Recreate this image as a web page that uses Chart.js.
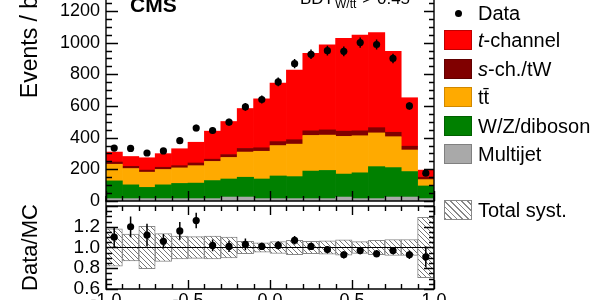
<!DOCTYPE html>
<html>
<head>
<meta charset="utf-8">
<script src="https://cdn.jsdelivr.net/npm/chart.js@4.4.0/dist/chart.umd.min.js"></script>
<style>
html, body { margin: 0; padding: 0; background: #fff; }
body { width: 600px; height: 300px; overflow: hidden; position: relative; font-family: "Liberation Sans", Arial, sans-serif; }
#main { position: absolute; left: 0; top: -26px; }
#ratio { position: absolute; left: 0; top: 196px; }
.leg { position: absolute; left: 478px; height: 24px; line-height: 24px; font-size: 20px; color: #000; white-space: nowrap; }
.box { position: absolute; left: 444px; width: 26px; height: 18px; border: 1px solid #555; }
.dot { position: absolute; left: 455px; top: 10px; width: 7px; height: 7px; border-radius: 50%; background: #000; }
</style>
</head>
<body>
<canvas id="main" width="600" height="239"></canvas>
<canvas id="ratio" width="600" height="124"></canvas>

<div class="dot"></div><div class="leg" style="top:1px">Data</div>
<div class="box" style="top:30px;background:#ff0000;border-color:#c00000"></div><div class="leg" style="top:28px"><i>t</i>-channel</div>
<div class="box" style="top:59px;background:#800000;border-color:#600000"></div><div class="leg" style="top:57px"><i>s</i>-ch./tW</div>
<div class="box" style="top:87px;background:#ffaa00;border-color:#d08800"></div><div class="leg" style="top:85px">tt&#772;</div>
<div class="box" style="top:116px;background:#008000;border-color:#006000"></div><div class="leg" style="top:114px">W/Z/diboson</div>
<div class="box" style="top:144px;background:#a9a9a9;border-color:#808080"></div><div class="leg" style="top:142px">Multijet</div>
<div class="box" style="top:200px;border-color:#888;background:repeating-linear-gradient(45deg,#888 0 1px,#fff 1px 4px)"></div><div class="leg" style="top:198px">Total syst.</div>

<script>
// bins of the BDT output, -1 .. 1
const binCenters = [-0.95, -0.85, -0.75, -0.65, -0.55, -0.45, -0.35, -0.25, -0.15, -0.05,
                     0.05,  0.15,  0.25,  0.35,  0.45,  0.55,  0.65,  0.75,  0.85,  0.95];

// stacked simulation, events per bin
const multijet = [15, 15, 15, 15, 15, 15, 15, 25, 25, 15, 15, 15, 15, 15, 25, 15, 15, 25, 25, 15];
const wzDiboson = [112, 87, 71, 87, 96, 98, 114, 114, 125, 124, 143, 139, 174, 178, 145, 163, 202, 186, 161, 80];
const ttbar = [105, 103, 96, 97, 98, 110, 121, 136, 159, 175, 192, 205, 225, 223, 238, 234, 213, 195, 136, 40];
const sChTW = [14, 14, 13, 14, 14, 17, 14, 18, 23, 22, 25, 28, 29, 33, 33, 31, 33, 28, 24, 15];
const tChannel = [63, 62, 78, 86, 107, 131, 177, 209, 252, 309, 369, 439, 489, 537, 586, 604, 601, 511, 306, 45];

// data
const dataCounts = [334, 332, 303, 316, 381, 461, 445, 498, 594, 641, 752, 867, 926, 949, 945, 1000, 988, 900, 600, 176];
const dataErr = [18, 18, 17, 18, 20, 21, 21, 22, 24, 25, 27, 29, 30, 31, 31, 32, 31, 30, 24, 13];

// ratio panel
const ratio = [1.10, 1.20, 1.12, 1.06, 1.16, 1.26, 1.02, 1.01, 1.03, 1.01, 1.02, 1.07, 1.01, 0.98, 0.93, 0.97, 0.94, 0.97, 0.93, 0.91];
const ratioErr = [0.095, 0.10, 0.11, 0.07, 0.085, 0.075, 0.057, 0.054, 0.057, 0.035, 0.04, 0.04, 0.035, 0.035, 0.035, 0.035, 0.035, 0.035, 0.04, 0.10];
const systErr = [0.18, 0.13, 0.205, 0.135, 0.11, 0.105, 0.11, 0.10, 0.06, 0.045, 0.058, 0.07, 0.06, 0.065, 0.075, 0.057, 0.07, 0.077, 0.077, 0.29];

const FONT = '"Liberation Sans", Arial, sans-serif';
Chart.defaults.font.family = FONT;
Chart.defaults.color = '#000';

function xy(arr) { return binCenters.map((x, i) => ({x: x, y: arr[i]})); }

function hatchPattern() {
  const c = document.createElement('canvas');
  c.width = 5; c.height = 5;
  const g = c.getContext('2d');
  g.fillStyle = '#fff';
  g.fillRect(0, 0, 5, 5);
  g.strokeStyle = '#777';
  g.lineWidth = 1;
  g.beginPath();
  for (const o of [-5, 0, 5]) { g.moveTo(o, 0); g.lineTo(o + 5, 5); }
  g.stroke();
  return g.createPattern(c, 'repeat');
}

// ROOT-like frame with inward ticks, error bars, reference line, labels
const rootFrame = {
  id: 'rootFrame',
  afterDatasetsDraw(chart, args, o) {
    const {ctx, chartArea: a, scales} = chart;
    ctx.save();
    // error bars
    chart.data.datasets.forEach((ds, i) => {
      if (!ds.errors) return;
      const meta = chart.getDatasetMeta(i);
      ctx.strokeStyle = '#000';
      ctx.lineWidth = 1.5;
      ctx.beginPath();
      meta.data.forEach((pt, j) => {
        const v = ds.data[j].y, e = ds.errors[j];
        ctx.moveTo(pt.x, scales.y.getPixelForValue(v + e));
        ctx.lineTo(pt.x, scales.y.getPixelForValue(v - e));
      });
      ctx.stroke();
    });
    if (o.refLine !== undefined) {
      const p = Math.round(scales.y.getPixelForValue(o.refLine)) + 0.5;
      ctx.strokeStyle = '#000'; ctx.lineWidth = 1;
      ctx.beginPath(); ctx.moveTo(a.left, p); ctx.lineTo(a.right, p); ctx.stroke();
    }
    ctx.strokeStyle = '#000';
    ctx.lineWidth = 1.4;
    ctx.beginPath();
    scales.y.ticks.forEach(t => {
      const k = Math.round(t.value / o.yStep);
      if (Math.abs(t.value / o.yStep - k) > 1e-6) return;
      const major = k % o.yMajor === 0;
      const p = Math.round(scales.y.getPixelForValue(t.value)) + 0.5;
      ctx.moveTo(a.left, p); ctx.lineTo(a.left + (major ? 12 : 6), p);
      ctx.moveTo(a.right, p); ctx.lineTo(a.right - (major ? 10 : 5), p);
    });
    scales.x.ticks.forEach(t => {
      const k = Math.round(t.value / o.xStep);
      if (Math.abs(t.value / o.xStep - k) > 1e-6) return;
      const major = k % o.xMajor === 0;
      const p = Math.round(scales.x.getPixelForValue(t.value)) + 0.5;
      ctx.moveTo(p, a.bottom); ctx.lineTo(p, a.bottom - (major ? o.xMajLen : o.xMinLen));
      if (o.top) { ctx.moveTo(p, a.top); ctx.lineTo(p, a.top + (major ? o.xMajLen : o.xMinLen)); }
    });
    ctx.moveTo(a.left, a.top - 30); ctx.lineTo(a.left, a.bottom);
    ctx.lineTo(a.right, a.bottom); ctx.lineTo(a.right, a.top - 30);
    if (o.top) { ctx.moveTo(a.left, a.top); ctx.lineTo(a.right, a.top); }
    ctx.stroke();
    if (o.texts) {
      // page y = canvas y - 26
      ctx.fillStyle = '#000';
      ctx.textBaseline = 'alphabetic';
      ctx.font = 'bold 21px ' + FONT;
      ctx.fillText('CMS', 130, 38);
      ctx.font = '17px ' + FONT;
      ctx.fillText('BDT', 300, 30);
      const w = ctx.measureText('BDT').width;
      ctx.font = '12px ' + FONT;
      ctx.fillText('W/tt', 300 + w + 1, 34);
      const w2 = ctx.measureText('W/tt').width;
      ctx.font = '17px ' + FONT;
      ctx.fillText('> 0.45', 300 + w + w2 + 7, 30);
    }
    ctx.restore();
  }
};

const barStyle = {type: 'bar', borderWidth: 0, barPercentage: 1, categoryPercentage: 1, order: 1};

new Chart(document.getElementById('main'), {
  type: 'bar',
  data: {
    datasets: [
      Object.assign({label: 'Multijet', data: xy(multijet), backgroundColor: '#a9a9a9'}, barStyle),
      Object.assign({label: 'W/Z/diboson', data: xy(wzDiboson), backgroundColor: '#008000'}, barStyle),
      Object.assign({label: 'tt', data: xy(ttbar), backgroundColor: '#ffaa00'}, barStyle),
      Object.assign({label: 's-ch./tW', data: xy(sChTW), backgroundColor: '#800000'}, barStyle),
      Object.assign({label: 't-channel', data: xy(tChannel), backgroundColor: '#ff0000'}, barStyle),
      {type: 'line', label: 'Data', data: xy(dataCounts), errors: dataErr, stack: 'data', order: 0,
       showLine: false, pointRadius: 3.6, pointBorderWidth: 0, pointBackgroundColor: '#000', borderColor: '#000'}
    ]
  },
  options: {
    responsive: false,
    animation: false,
    layout: {padding: {left: 0, right: 166, top: 0, bottom: 0}},
    plugins: {
      legend: {display: false},
      tooltip: {enabled: false},
      rootFrame: {yStep: 50, yMajor: 4, xStep: 0.1, xMajor: 5, xMajLen: 10, xMinLen: 5, top: false, texts: true}
    },
    scales: {
      x: {
        type: 'linear', min: -1, max: 1, offset: false, stacked: true,
        grid: {display: false, drawTicks: false}, border: {display: false},
        ticks: {display: false, stepSize: 0.1},
        afterFit: s => { s.height = 12; s.paddingLeft = 0; s.paddingRight = 0; }
      },
      y: {
        min: 0, max: 1408, stacked: true,
        grid: {display: false, drawTicks: false}, border: {display: false},
        ticks: {stepSize: 50, autoSkip: false, padding: 6, font: {size: 18},
                callback: v => (v % 200 === 0 ? String(v) : '')},
        title: {display: true, text: 'Events / bin', align: 'end', font: {size: 23}, padding: {top: 17, bottom: 0}},
        afterFit: s => { s.width = 106; s.paddingTop = 0; s.paddingBottom = 0; }
      }
    }
  },
  plugins: [rootFrame]
});

new Chart(document.getElementById('ratio'), {
  type: 'bar',
  data: {
    datasets: [
      {type: 'bar', label: 'Total syst.', data: binCenters.map((x, i) => ({x: x, y: [1 - systErr[i], 1 + systErr[i]]})),
       backgroundColor: hatchPattern(), borderColor: '#888', borderWidth: 1, borderSkipped: false,
       barPercentage: 1, categoryPercentage: 1, order: 1},
      {type: 'line', label: 'Data/MC', data: xy(ratio), errors: ratioErr, order: 0,
       showLine: false, pointRadius: 3.6, pointBorderWidth: 0, pointBackgroundColor: '#000', borderColor: '#000'}
    ]
  },
  options: {
    responsive: false,
    animation: false,
    layout: {padding: {left: 0, right: 166, top: 10, bottom: 0}},
    plugins: {
      legend: {display: false},
      tooltip: {enabled: false},
      rootFrame: {yStep: 0.05, yMajor: 4, xStep: 0.1, xMajor: 5, xMajLen: 9, xMinLen: 5, top: true, refLine: 1}
    },
    scales: {
      x: {
        type: 'linear', min: -1, max: 1, offset: false,
        grid: {display: false, drawTicks: false}, border: {display: false},
        ticks: {stepSize: 0.1, autoSkip: false, maxRotation: 0, padding: 1, font: {size: 18},
                callback: v => { const r = Math.round(v * 10); return r % 5 === 0 ? (r / 10).toFixed(1) : ''; }},
        afterFit: s => { s.height = 31; s.paddingLeft = 0; s.paddingRight = 0; }
      },
      y: {
        min: 0.6, max: 1.4,
        grid: {display: false, drawTicks: false}, border: {display: false},
        ticks: {stepSize: 0.05, autoSkip: false, padding: 6, font: {size: 19},
                callback: v => { const r = Math.round(v * 100); return (r % 20 === 0 && r < 140) ? (r / 100).toFixed(1) : ''; }},
        title: {display: true, text: 'Data/MC', align: 'center', font: {size: 22}, padding: {top: 18, bottom: 0}},
        afterFit: s => { s.width = 106; s.paddingTop = 0; s.paddingBottom = 0; }
      }
    }
  },
  plugins: [rootFrame]
});
</script>
</body>
</html>
